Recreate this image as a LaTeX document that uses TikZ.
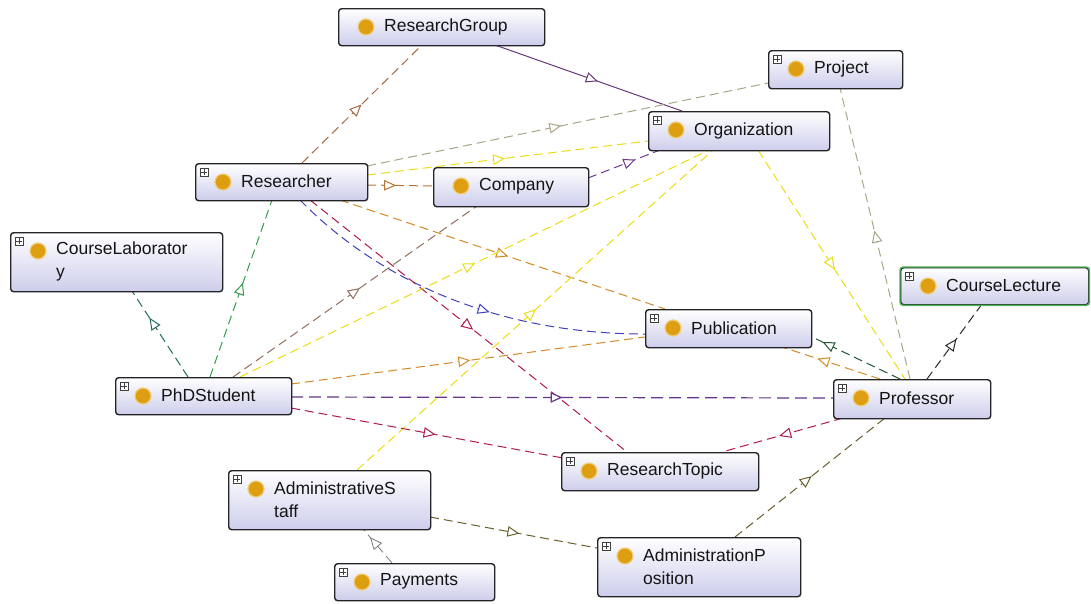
\documentclass[tikz,border=0pt]{standalone}
\usepackage{fontspec}
\newfontfamily\owlfont{Liberation Sans}
\usetikzlibrary{arrows.meta,decorations.markings,calc}

\definecolor{boxline}{RGB}{35,35,40}
\definecolor{boxlav}{RGB}{205,205,236}
\definecolor{dotfill}{RGB}{222,158,18}
\definecolor{dotring}{RGB}{240,205,120}
\definecolor{lecgreen}{RGB}{80,180,90}
\definecolor{cBrown}{RGB}{165,105,65}
\definecolor{cPurpleSolid}{RGB}{105,55,125}
\definecolor{cBeige}{RGB}{170,165,135}
\definecolor{cYellow}{RGB}{232,222,20}
\definecolor{cPurple}{RGB}{115,55,145}
\definecolor{cRust}{RGB}{185,115,55}
\definecolor{cOrange}{RGB}{212,138,38}
\definecolor{cBlue}{RGB}{65,65,185}
\definecolor{cCrimson}{RGB}{175,25,75}
\definecolor{cTaupe}{RGB}{145,110,95}
\definecolor{cViolet}{RGB}{100,55,140}
\definecolor{cOlive}{RGB}{105,95,45}
\definecolor{cGray}{RGB}{110,110,110}
\definecolor{cDarkGreen}{RGB}{35,85,55}
\definecolor{cDark}{RGB}{40,40,40}
\definecolor{cGreen}{RGB}{55,155,75}
\definecolor{cTeal}{RGB}{35,105,95}

\pgfdeclarelayer{paper}
\pgfdeclarelayer{edges}
\pgfsetlayers{paper,edges,main}

\tikzset{
  classbox/.style={draw=boxline, line width=1.4pt, rounded corners=3pt,
    top color=white, bottom color=boxlav, inner sep=0pt, anchor=north west},
  classname/.style={font=\owlfont\fontsize{17.5}{23}\selectfont, inner sep=0pt,
    anchor=west, align=left, text=black!92},
  classdot/.style={circle, fill=dotfill, draw=dotring, line width=1.2pt,
    minimum size=16pt, inner sep=0pt},
  expander/.style={draw=black!75, fill=white, line width=0.6pt, minimum size=8pt,
    inner sep=0pt, path picture={
      \draw[line width=0.7pt]
        ([xshift=-2.6pt]path picture bounding box.center) -- ([xshift=2.6pt]path picture bounding box.center)
        ([yshift=-2.6pt]path picture bounding box.center) -- ([yshift=2.6pt]path picture bounding box.center);}},
  rel/.style={dash pattern=on 9pt off 5pt, line width=1pt},
  midtip/.style={postaction={decorate, decoration={markings,
    mark=at position #1 with {\arrow[xshift=6pt]{Triangle[open, length=12pt, width=10.5pt, fill=white]}}}}},
}

% class box: name, left, top, width, height, label
\newcommand\owlclass[6]{%
  \node[classbox, minimum width=#4pt, minimum height=#5pt] (#1) at (#2,#3) {};
  \node[classdot] (#1-dot) at ($(#1.north west)+(28,19)$) {};
  \node[classname] (#1-name) at ($(#1.north west)+(46,#5/2)$) {#6};
}
\newcommand\owlexpander[1]{%
  \node[expander] (#1-exp) at ($(#1.north west)+(9,9)$) {};
}

\begin{document}
\begin{tikzpicture}[x=1pt,y=-1pt]
\begin{pgfonlayer}{paper}
\fill[white] (0,0) rectangle (1091,603);
\end{pgfonlayer}
\useasboundingbox (0,0) rectangle (1091,603);

% classes
\owlclass{RG}{338}{8}{206}{37}{ResearchGroup}
\owlclass{Proj}{768}{50}{134}{38}{Project}
\owlclass{Org}{648}{111}{181}{39}{Organization}
\owlclass{Res}{195}{163}{172}{37}{Researcher}
\owlclass{Comp}{433}{167}{155}{39}{Company}
\owlclass{CLab}{10}{232}{212}{59}{CourseLaborator\\y}
\owlclass{CLec}{900}{267}{188}{37}{CourseLecture}
\owlclass{Pub}{645}{309}{166}{38}{Publication}
\owlclass{PhD}{115}{377}{176}{37}{PhDStudent}
\owlclass{Prof}{833}{379}{157}{39}{Professor}
\owlclass{RT}{561}{452}{197}{38}{ResearchTopic}
\owlclass{AS}{228}{470}{202}{59}{AdministrativeS\\taff}
\owlclass{Pay}{334}{563}{160}{37}{Payments}
\owlclass{AP}{597}{537}{203}{59}{AdministrationP\\osition}
\draw[lecgreen, line width=1.4pt, rounded corners=3pt] (CLec.north west) rectangle (CLec.south east);

\foreach \n in {Proj,Org,Res,CLab,CLec,Pub,PhD,Prof,RT,AS,Pay,AP} {\owlexpander{\n}}

% relations
\begin{pgfonlayer}{edges}
\draw[rel, cBrown, midtip=0.46] ($(Res.north west)+(107,0)$) -- ($(RG.north west)+(84,37)$);
\draw[line width=1pt, cPurpleSolid, midtip=0.52] ($(RG.north west)+(157,37)$) -- ($(Org.north west)+(34,0)$);
\draw[rel, cBeige, midtip=0.47] ($(Res.north west)+(172,3)$) -- ($(Proj.north west)+(0,33)$);
\draw[rel, cYellow, midtip=0.47] ($(Res.north west)+(172,12)$) -- ($(Org.north west)+(0,30)$);
\draw[rel, cPurple, midtip=0.58] ($(Comp.north west)+(155,11)$) -- ($(Org.north west)+(12,39)$);
\draw[rel, cRust, midtip=0.35] ($(Res.north west)+(172,22)$) -- ($(Comp.north west)+(0,19)$);
\draw[rel, cOrange, midtip=0.5] ($(Res.north west)+(145,37)$) -- ($(Pub.north west)+(20,0)$);
\draw[rel, cBlue, midtip=0.57] ($(Res.north west)+(105,37)$) .. controls +(80,82) and +(-145,0) .. ($(Pub.north west)+(0,25)$);
\draw[rel, cCrimson, midtip=0.5] ($(Res.north west)+(115,37)$) -- ($(RT.north west)+(66,0)$);
\draw[rel, cTaupe, midtip=0.5] ($(PhD.north west)+(118,0)$) -- ($(Comp.north west)+(44,39)$);
\draw[rel, cYellow, midtip=0.49] ($(PhD.north west)+(125,0)$) -- ($(Org.north west)+(61,39)$);
\draw[rel, cYellow, midtip=0.49] ($(AS.north west)+(129,0)$) -- ($(Org.north west)+(65,39)$);
\draw[rel, cOrange, midtip=0.49] ($(PhD.north west)+(176,7)$) -- ($(Pub.north west)+(0,28)$);
\draw[rel, cViolet, line width=1.2pt, dash pattern=on 12pt off 6pt, midtip=0.49] ($(PhD.north west)+(176,20)$) -- ($(Prof.north west)+(0,19)$);
\draw[rel, cCrimson, midtip=0.51] ($(PhD.north west)+(176,31)$) -- ($(RT.north west)+(2,6)$);
\draw[rel, cCrimson, midtip=0.48] ($(Prof.north west)+(10,39)$) -- ($(RT.north west)+(161,0)$);
\draw[rel, cOlive, midtip=0.48] ($(AP.north west)+(138,0)$) -- ($(Prof.north west)+(52,39)$);
\draw[rel, cOlive, midtip=0.5] ($(AS.north west)+(202,47)$) -- ($(AP.north west)+(0,11)$);
\draw[rel, cGray, line width=0.7pt, midtip=0.62] ($(Pay.north west)+(58,0)$) -- ($(AS.north west)+(135,59)$);
\draw[rel, cYellow, midtip=0.5] ($(Org.north west)+(110,39)$) -- ($(Prof.north west)+(72,0)$);
\draw[rel, cBeige, midtip=0.49] ($(Prof.north west)+(77,0)$) -- ($(Proj.north west)+(72,38)$);
\draw[rel, cOrange, midtip=0.58] ($(Prof.north west)+(47,0)$) -- ($(Pub.north west)+(137,38)$);
\draw[rel, cDarkGreen, midtip=0.8] ($(Prof.north west)+(67,0)$) -- ($(Pub.north west)+(165,27)$);
\draw[rel, cDark, midtip=0.47] ($(Prof.north west)+(94,0)$) -- ($(CLec.north west)+(82,37)$);
\draw[rel, cGreen, midtip=0.5] ($(PhD.north west)+(95,0)$) -- ($(Res.north west)+(77,37)$);
\draw[rel, cTeal, midtip=0.63] ($(PhD.north west)+(73,0)$) -- ($(CLab.north west)+(122,59)$);
\end{pgfonlayer}
\end{tikzpicture}
\end{document}
